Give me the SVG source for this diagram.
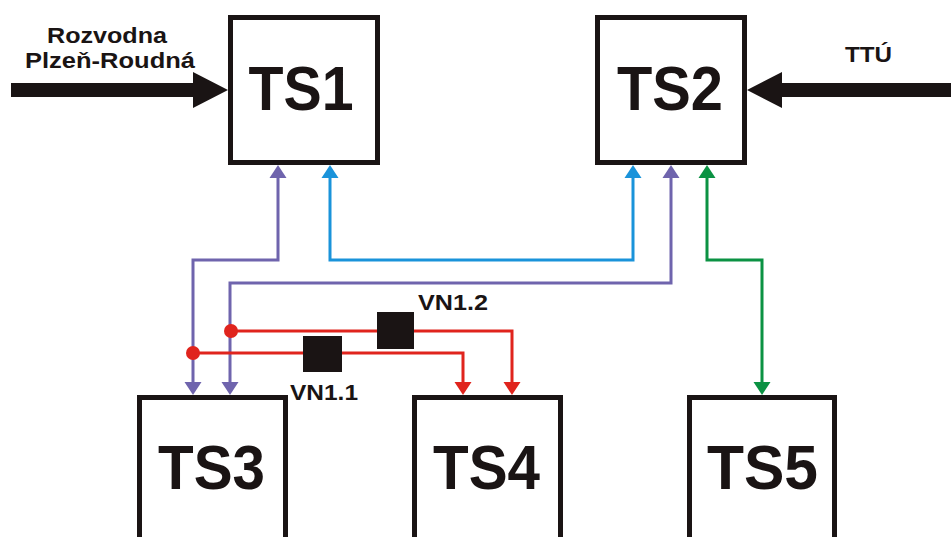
<svg xmlns="http://www.w3.org/2000/svg" width="951" height="537" viewBox="0 0 951 537">
<defs>
<style>
.box{fill:#fff;stroke:#1a1414;stroke-width:5}
.big{font-family:"Liberation Sans",Arial,sans-serif;font-weight:bold;font-size:63px;fill:#1a1414;text-anchor:middle}
.lbl{font-family:"Liberation Sans",Arial,sans-serif;font-weight:bold;font-size:22px;fill:#1a1414}
.c{fill:none;stroke-width:3}
.pu{stroke:#6f64ad}
.bl{stroke:#1a93da}
.gr{stroke:#0b9243}
.rd{stroke:#e0241d}
</style>
<marker id="mpu" viewBox="0 -9 13 18" refX="0" refY="0" markerWidth="13" markerHeight="18" markerUnits="userSpaceOnUse" orient="auto-start-reverse"><path d="M0,-8.5 L13,0 L0,8.5 Z" fill="#6f64ad"/></marker>
<marker id="mbl" viewBox="0 -9 13 18" refX="0" refY="0" markerWidth="13" markerHeight="18" markerUnits="userSpaceOnUse" orient="auto-start-reverse"><path d="M0,-8.5 L13,0 L0,8.5 Z" fill="#1a93da"/></marker>
<marker id="mgr" viewBox="0 -9 13 18" refX="0" refY="0" markerWidth="13" markerHeight="18" markerUnits="userSpaceOnUse" orient="auto-start-reverse"><path d="M0,-8.5 L13,0 L0,8.5 Z" fill="#0b9243"/></marker>
<marker id="mrd" viewBox="0 -9 13 18" refX="0" refY="0" markerWidth="13" markerHeight="18" markerUnits="userSpaceOnUse" orient="auto-start-reverse"><path d="M0,-8.5 L13,0 L0,8.5 Z" fill="#e0241d"/></marker>
</defs>
<rect width="951" height="537" fill="#fff"/>

<g id="connectors">
<path class="c pu" d="M278,178 V260 H193 V382" marker-start="url(#mpu)" marker-end="url(#mpu)"/>
<path class="c bl" d="M330,178 V260 H633 V178" marker-start="url(#mbl)" marker-end="url(#mbl)"/>
<path class="c pu" d="M671,178 V283 H230 V382" marker-start="url(#mpu)" marker-end="url(#mpu)"/>
<path class="c gr" d="M707,178 V260 H762 V382" marker-start="url(#mgr)" marker-end="url(#mgr)"/>
<path class="c rd" d="M193,353 H463 V382" marker-end="url(#mrd)"/>
<path class="c rd" d="M231,331 H512 V382" marker-end="url(#mrd)"/>
<circle cx="193" cy="353" r="7" fill="#e0241d"/>
<circle cx="231" cy="331" r="7" fill="#e0241d"/>
<polygon points="11,83 193,83 193,72 228,90 193,108 193,97 11,97" fill="#1a1414"/>
<polygon points="951,83 782,83 782,72 747,90 782,108 782,97 951,97" fill="#1a1414"/>
</g>

<g id="switch-vn11">
<rect x="303" y="336" width="39" height="36" fill="#1a1414"/>
<text class="lbl" x="290" y="400" textLength="68" lengthAdjust="spacingAndGlyphs">VN1.1</text>
</g>
<g id="switch-vn12">
<rect x="377" y="312" width="37" height="37" fill="#1a1414"/>
<text class="lbl" x="418" y="310" textLength="70" lengthAdjust="spacingAndGlyphs">VN1.2</text>
</g>

<g id="label-rozvodna">
<text class="lbl" x="107" y="43" text-anchor="middle" textLength="120" lengthAdjust="spacingAndGlyphs">Rozvodna</text>
<text class="lbl" x="110" y="68" text-anchor="middle" textLength="170" lengthAdjust="spacingAndGlyphs">Plzeň-Roudná</text>
</g>
<g id="label-ttu">
<text class="lbl" x="845" y="62" textLength="47" lengthAdjust="spacingAndGlyphs">TTÚ</text>
</g>

<g id="TS1">
<rect class="box" x="230.5" y="17.5" width="147" height="145"/>
<text class="big" x="301" y="110" textLength="105" lengthAdjust="spacingAndGlyphs">TS1</text>
</g>
<g id="TS2">
<rect class="box" x="597.5" y="17.5" width="147" height="145"/>
<text class="big" x="670" y="110" textLength="106" lengthAdjust="spacingAndGlyphs">TS2</text>
</g>
<g id="TS3">
<rect class="box" x="139.5" y="397.5" width="146" height="200"/>
<text class="big" x="211.5" y="489" textLength="107" lengthAdjust="spacingAndGlyphs">TS3</text>
</g>
<g id="TS4">
<rect class="box" x="414.5" y="397.5" width="146" height="200"/>
<text class="big" x="486.5" y="489" textLength="107" lengthAdjust="spacingAndGlyphs">TS4</text>
</g>
<g id="TS5">
<rect class="box" x="689.5" y="397.5" width="145" height="200"/>
<text class="big" x="762.5" y="489" textLength="111" lengthAdjust="spacingAndGlyphs">TS5</text>
</g>
</svg>
